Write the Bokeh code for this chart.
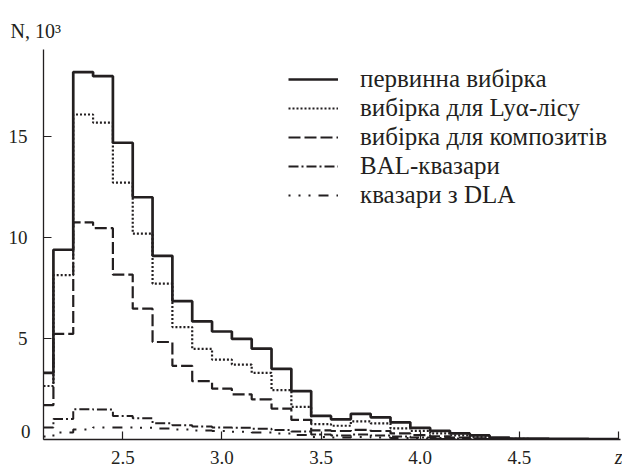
from bokeh.plotting import figure
from bokeh.models import Legend, LegendItem, FixedTicker, Range1d, LinearAxis
from bokeh.embed import file_html
from bokeh.resources import INLINE

# bin centres (z)
z_bins = [2.1, 2.2, 2.3, 2.4, 2.5, 2.6, 2.7, 2.8, 2.9, 3.0,
          3.1, 3.2, 3.3, 3.4, 3.5, 3.6, 3.7, 3.8, 3.9, 4.0,
          4.1, 4.2, 4.3, 4.4, 4.5, 4.6, 4.7, 4.8, 4.9, 5.0]

# counts, thousands
primary = [3.3, 9.4, 18.2, 18.0, 14.7, 12.0, 9.1, 6.85, 5.85, 5.35,
           4.98, 4.5, 3.5, 2.4, 1.17, 1.0, 1.27, 1.1, 0.85, 0.58,
           0.43, 0.3, 0.2, 0.1, 0.05, 0.04, 0.03, 0.03, 0.02, 0.02]
lya = [2.65, 8.14, 16.1, 15.7, 12.73, 10.2, 7.72, 5.57, 4.49, 3.96,
       3.71, 3.3, 2.45, 1.62, 0.76, 0.68, 0.9, 0.8, 0.55, 0.43,
       0.3, 0.2, 0.12, 0.05, 0.03, 0.02, 0.02, 0.01, 0.01, 0.01]
composite = [1.7, 5.23, 10.76, 10.47, 8.17, 6.48, 4.83, 3.65, 2.89, 2.52,
             2.24, 1.99, 1.53, 0.97, 0.45, 0.42, 0.48, 0.42, 0.3, 0.22,
             0.15, 0.1, 0.06, 0.03, 0.02, 0.01, 0.01, 0.01, 0.0, 0.0]
bal = [0.6, 1.02, 1.5, 1.48, 1.17, 1.05, 0.8, 0.7, 0.65, 0.6,
       0.58, 0.53, 0.47, 0.4, 0.25, 0.2, 0.25, 0.2, 0.15, 0.1,
       0.07, 0.05, 0.03, 0.02, 0.01, 0.01, 0.0, 0.0, 0.0, 0.0]
dla = [0.15, 0.35, 0.5, 0.6, 0.6, 0.58, 0.55, 0.5, 0.45, 0.42,
       0.38, 0.35, 0.3, 0.22, 0.13, 0.1, 0.13, 0.1, 0.07, 0.05,
       0.03, 0.02, 0.01, 0.01, 0.0, 0.0, 0.0, 0.0, 0.0, 0.0]

labels = ["первинна вибірка", "вибірка для Lyα-лісу", "вибірка для композитів",
          "BAL-квазари", "квазари з DLA"]

x_ticks = [2.5, 3.0, 3.5, 4.0, 4.5, 5.0]
x_tick_labels = ["2.5", "3.0", "3.5", "4.0", "4.5", ""]
z_tick = [5.0]
z_label = "z"
y_ticks = [0, 5, 10, 15]
y_tick_labels = ["0", "5", "10", "15"]
y_title = "N, 10³"

INK = "#231f20"
FONT = "Liberation Serif"
TICK_FS = "19px"

p = figure(width=622, height=470, output_backend="svg", toolbar_location=None,
           x_range=Range1d(2.1, 5.01), y_range=Range1d(0, 19.32),
           min_border_left=43, min_border_right=2, min_border_top=49,
           min_border_bottom=30)
p.outline_line_color = None
p.xgrid.visible = False
p.ygrid.visible = False
p.background_fill_color = "white"
p.border_fill_color = "white"

r1 = p.step(z_bins, primary, mode="center", line_color=INK, line_width=2.7)
r2 = p.step(z_bins, lya, mode="center", line_color=INK, line_width=2.2, line_dash="2 2")
r3 = p.step(z_bins, composite, mode="center", line_color=INK, line_width=2.2, line_dash="12 4")
r4 = p.step(z_bins, bal, mode="center", line_color=INK, line_width=2.0, line_dash="10 3 2 3")
r5 = p.step(z_bins, dla, mode="center", line_color=INK, line_width=2.0, line_dash="2 8 2 8 2 8 10 8")


def style_labels(ax, size=TICK_FS, italic=False):
    ax.major_label_text_font = FONT
    ax.major_label_text_font_size = size
    ax.major_label_text_color = INK
    if italic:
        ax.major_label_text_font_style = "italic"
    ax.minor_tick_line_color = None


def bare(ax):
    ax.axis_line_color = None
    ax.major_tick_line_color = None
    ax.major_tick_in = 0
    ax.major_tick_out = 0


# main x axis: line, inner ticks, numeric labels
xa = p.xaxis[0]
xa.ticker = FixedTicker(ticks=x_ticks)
xa.major_label_overrides = dict(zip(x_ticks, x_tick_labels))
xa.axis_line_color = INK
xa.axis_line_width = 1.3
xa.major_tick_line_color = INK
xa.major_tick_line_width = 1.2
xa.major_tick_in = 8
xa.major_tick_out = 0
xa.major_label_standoff = 11
style_labels(xa)

# italic "z" on the last tick, same row as the numbers
za = LinearAxis(ticker=FixedTicker(ticks=z_tick),
                major_label_overrides={z_tick[0]: z_label},
                major_label_standoff=-21)
bare(za)
style_labels(za, size="20px", italic=True)
p.add_layout(za, "below")

# main y axis: line + inner ticks only
ya = p.yaxis[0]
ya.ticker = FixedTicker(ticks=y_ticks)
ya.major_label_overrides = {t: "" for t in y_ticks}
ya.axis_line_color = INK
ya.axis_line_width = 1.3
ya.major_tick_line_color = INK
ya.major_tick_line_width = 1.2
ya.major_tick_in = 8
ya.major_tick_out = 0
ya.major_label_standoff = 0
style_labels(ya)

# "0" label, lifted above the x axis as in the original
p.extra_y_ranges = {"lift": Range1d(-0.4, 18.92)}
a0 = LinearAxis(y_range_name="lift", ticker=FixedTicker(ticks=y_ticks[:1]),
                major_label_overrides={y_ticks[0]: y_tick_labels[0]},
                major_label_standoff=13)
bare(a0)
style_labels(a0)
p.add_layout(a0, "left")

# 5, 10, 15 labels
a1 = LinearAxis(ticker=FixedTicker(ticks=y_ticks[1:]),
                major_label_overrides=dict(zip(y_ticks[1:], y_tick_labels[1:])),
                major_label_standoff=-10)
bare(a1)
style_labels(a1)
p.add_layout(a1, "left")

# axis title N, 10^3 at the top left
p.title.text = y_title
p.title.align = "left"
p.title.offset = -33
p.title.standoff = 16
p.title.text_font = FONT
p.title.text_font_size = "20px"
p.title.text_font_style = "normal"
p.title.text_color = INK

legend = Legend(items=[LegendItem(label=labels[i], renderers=[r])
                       for i, r in enumerate([r1, r2, r3, r4, r5])],
                location=(245, 230))
legend.background_fill_alpha = 0
legend.border_line_color = None
legend.padding = 0
legend.margin = 0
legend.spacing = 1
legend.glyph_width = 50
legend.glyph_height = 20
legend.label_height = 27
legend.label_standoff = 22
legend.label_text_font = FONT
legend.label_text_font_size = "25px"
legend.label_text_color = INK
p.add_layout(legend)

open("out.html", "w").write(file_html(p, INLINE))
